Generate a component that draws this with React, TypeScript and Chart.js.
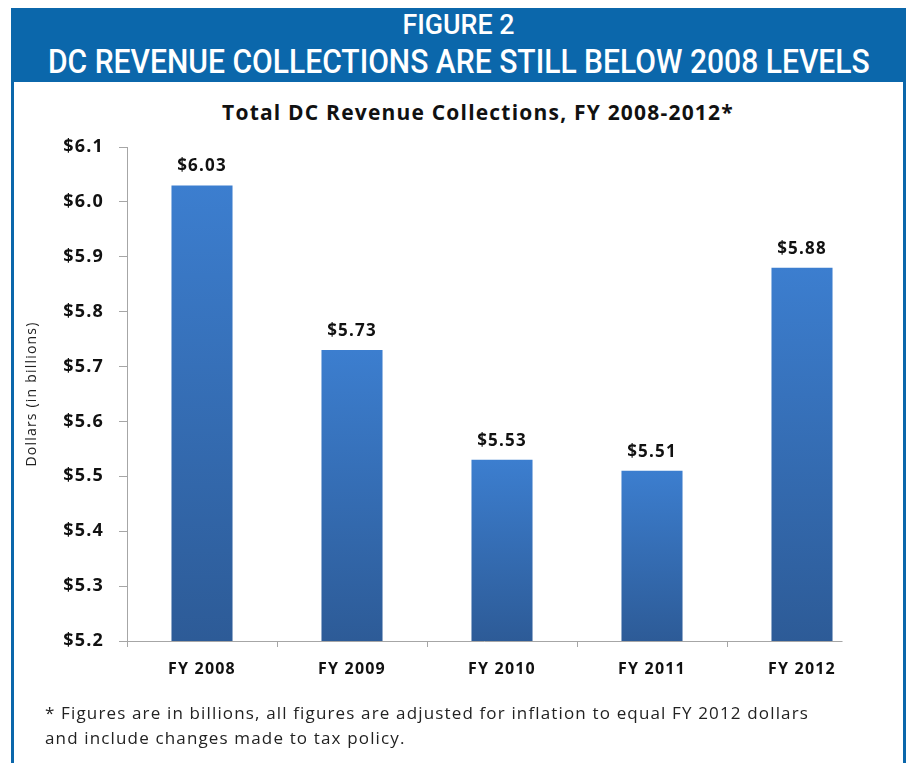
import React, { useEffect, useLayoutEffect, useRef } from "react";
import { Chart, registerables } from "chart.js";

Chart.register(...registerables);

const categories = ["FY 2008", "FY 2009", "FY 2010", "FY 2011", "FY 2012"];
const revenue = [6.03, 5.73, 5.53, 5.51, 5.88];
const yMin = 5.2;
const yMax = 6.1;
const yStep = 0.1;

const headerLine1 = "FIGURE 2";
const headerLine2 = "DC REVENUE COLLECTIONS ARE STILL BELOW 2008 LEVELS";
const chartTitle = "Total DC Revenue Collections, FY 2008-2012*";
const yAxisTitle = "Dollars (in billions)";
const footnote1 = "* Figures are in billions, all figures are adjusted for inflation to equal FY 2012 dollars";
const footnote2 = "and include changes made to tax policy.";

const FRAME_BLUE = "#0B67AB";
const AXIS_GRAY = "#A6A6A6";
const FONT = "'Open Sans', 'DejaVu Sans', sans-serif";
const SPACING = "1.2px";

const spacingPlugin = {
  id: "letterSpacing",
  beforeInit(chart: any) {
    chart.ctx.letterSpacing = SPACING;
  },
  beforeUpdate(chart: any) {
    chart.ctx.letterSpacing = SPACING;
  },
  beforeDraw(chart: any) {
    chart.ctx.letterSpacing = SPACING;
  },
};

// x axis line stops just past the last bar, as in the original
const xAxisLinePlugin = {
  id: "xAxisLine",
  afterDatasetsDraw(chart: any) {
    const meta = chart.getDatasetMeta(0);
    const last = meta.data[meta.data.length - 1];
    if (!last) return;
    const area = chart.chartArea;
    const ctx = chart.ctx;
    ctx.save();
    ctx.strokeStyle = AXIS_GRAY;
    ctx.lineWidth = 1;
    ctx.beginPath();
    ctx.moveTo(area.left, Math.round(area.bottom) + 0.5);
    ctx.lineTo(last.x + last.width / 2 + 10, Math.round(area.bottom) + 0.5);
    ctx.stroke();
    ctx.restore();
  },
};

const dataLabelPlugin = {
  id: "dataLabels",
  afterDatasetsDraw(chart: any) {
    const ctx = chart.ctx;
    const meta = chart.getDatasetMeta(0);
    ctx.save();
    ctx.font = `bold 17px ${FONT}`;
    ctx.fillStyle = "#111111";
    ctx.textAlign = "center";
    ctx.textBaseline = "middle";
    meta.data.forEach((bar: any, i: number) => {
      const v = chart.data.datasets[0].data[i];
      ctx.fillText("$" + v.toFixed(2), bar.x, bar.y - 19);
    });
    ctx.restore();
  },
};

function FitText(props: { text: string; width: number; style: any }) {
  const ref = useRef<HTMLSpanElement | null>(null);
  useLayoutEffect(() => {
    const el = ref.current;
    if (!el) return;
    el.style.transform = "none";
    const w = el.offsetWidth;
    if (w > 0) el.style.transform = `scaleX(${props.width / w})`;
  }, [props.text, props.width]);
  return (
    <div
      style={{
        position: "absolute",
        left: 0,
        right: 0,
        display: "flex",
        justifyContent: "center",
        whiteSpace: "nowrap",
        ...props.style,
      }}
    >
      <span ref={ref} style={{ display: "inline-block", flex: "none", transformOrigin: "50% 50%" }}>
        {props.text}
      </span>
    </div>
  );
}

export default function App() {
  const canvasRef = useRef<HTMLCanvasElement | null>(null);

  useEffect(() => {
    if (!canvasRef.current) return;
    const chart = new Chart(canvasRef.current, {
      type: "bar",
      data: {
        labels: categories,
        datasets: [
          {
            data: revenue,
            backgroundColor: (c: any) => {
              const ch = c.chart;
              const area = ch.chartArea;
              if (!area || c.dataIndex === undefined) return "#3569B0";
              const y = ch.scales.y;
              const top = y.getPixelForValue(c.raw);
              const bottom = area.bottom;
              if (!isFinite(top) || bottom - top < 1) return "#3569B0";
              const g = ch.ctx.createLinearGradient(0, top, 0, bottom);
              g.addColorStop(0, "#3C7ECF");
              g.addColorStop(1, "#2D5B97");
              return g;
            },
            borderWidth: 0,
            barPercentage: 0.407,
            categoryPercentage: 1,
          },
        ],
      },
      options: {
        animation: false,
        responsive: false,
        layout: { padding: { top: 147, left: 14, right: 31, bottom: 72 } },
        plugins: {
          legend: { display: false },
          tooltip: { enabled: false },
          title: { display: false },
        },
        scales: {
          x: {
            afterFit: (s: any) => {
              s.height = 50;
            },
            grid: {
              offset: true,
              drawOnChartArea: false,
              color: (c: any) =>
                c.type !== "tick" || c.index === undefined || c.index >= categories.length
                  ? "rgba(0,0,0,0)"
                  : AXIS_GRAY,
              tickLength: 6,
            },
            border: { display: false },
            ticks: {
              color: "#111111",
              font: { family: FONT, size: 16, weight: "bold" },
              padding: 13,
            },
          },
          y: {
            min: yMin,
            max: yMax,
            afterFit: (s: any) => {
              s.width = 113;
            },
            grid: {
              drawOnChartArea: false,
              color: AXIS_GRAY,
              tickLength: 8,
            },
            border: { color: AXIS_GRAY, width: 1 },
            ticks: {
              stepSize: yStep,
              color: "#111111",
              font: { family: FONT, size: 18, weight: "bold" },
              padding: 15,
              callback: (v: any) => "$" + Number(v).toFixed(1),
            },
            title: {
              display: true,
              text: yAxisTitle,
              color: "#222222",
              font: { family: FONT, size: 14 },
              padding: { top: 10, bottom: 0 },
            },
          },
        },
      },
      plugins: [spacingPlugin, xAxisLinePlugin, dataLabelPlugin],
    });
    return () => chart.destroy();
  }, []);

  const headerFont = "Roboto, 'Liberation Sans', sans-serif";

  return (
    <div
      style={{
        position: "fixed",
        left: 0,
        top: 0,
        width: 908,
        height: 763,
        background: "#ffffff",
        overflow: "hidden",
      }}
    >
      <div
        style={{
          position: "absolute",
          left: 11,
          top: 8,
          width: 889,
          height: 800,
          border: `3px solid ${FRAME_BLUE}`,
        }}
      />
      <div
        style={{
          position: "absolute",
          left: 11,
          top: 8,
          width: 895,
          height: 74,
          background: FRAME_BLUE,
          color: "#ffffff",
          fontFamily: headerFont,
          fontWeight: 500,
          overflow: "hidden",
        }}
      >
        <FitText text={headerLine1} width={112} style={{ top: 4, fontSize: 27, lineHeight: "27px" }} />
        <FitText text={headerLine2} width={822} style={{ top: 35.5, fontSize: 34, lineHeight: "34px" }} />
      </div>
      <div
        style={{
          position: "absolute",
          left: 178,
          width: 600,
          top: 99.5,
          textAlign: "center",
          fontFamily: FONT,
          fontWeight: "bold",
          fontSize: 21,
          letterSpacing: SPACING,
          lineHeight: "25px",
          color: "#111111",
          whiteSpace: "nowrap",
        }}
      >
        {chartTitle}
      </div>
      <canvas
        ref={canvasRef}
        width={908}
        height={763}
        style={{ position: "absolute", left: 0, top: 0, width: 908, height: 763 }}
      />
      <div
        style={{
          position: "absolute",
          left: 45,
          top: 700,
          fontFamily: FONT,
          fontSize: 17,
          letterSpacing: "1.15px",
          lineHeight: "25px",
          color: "#222222",
          whiteSpace: "nowrap",
        }}
      >
        <div>{footnote1}</div>
        <div>{footnote2}</div>
      </div>
    </div>
  );
}
